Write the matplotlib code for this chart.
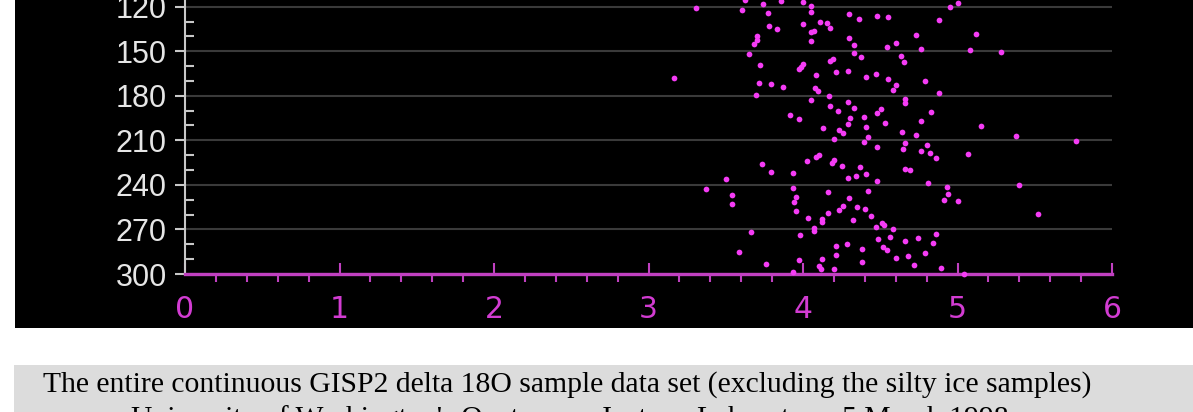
import matplotlib
matplotlib.use("Agg")
from matplotlib import pyplot as plt
from matplotlib.patches import Rectangle
from matplotlib.ticker import MultipleLocator
import numpy as np

# delta 18O value vs. sample depth
d18o = [3.306, 3.603, 3.743, 3.772, 3.782, 3.834, 3.702, 3.704, 3.683, 3.652,
        3.722, 3.163, 3.713, 3.795, 3.694, 3.733, 3.795, 3.504, 3.374, 3.542,
        3.542, 3.663, 3.584, 3.762, 3.625,
        3.856, 4.002, 4.052, 4.054, 4.300, 4.361, 4.477, 4.002, 4.112, 4.153,
        4.173, 4.073, 4.054, 4.052, 4.300, 4.332, 4.332, 4.373, 4.175, 4.192,
        4.000, 3.987, 3.976, 4.082, 4.214, 4.291, 4.410, 4.472, 3.873, 4.080,
        4.095, 4.170, 4.052, 4.291, 4.173, 4.330, 4.225, 4.481, 3.914, 3.976,
        4.302, 4.393, 4.291, 4.131, 4.233, 4.261, 4.410, 4.201, 4.393, 4.421,
        4.477, 4.024, 4.082, 4.102, 4.186, 4.201, 4.252, 4.371, 3.933, 4.293,
        4.343, 4.410, 4.481, 3.933, 3.953, 3.942, 3.953, 4.162, 4.300, 4.423,
        4.261, 4.233, 4.351, 4.403, 4.162, 4.032, 4.121, 4.121, 4.322, 4.440,
        4.071, 4.073, 4.472, 3.983, 4.214, 4.283, 4.382, 4.487, 4.214, 4.121,
        3.976, 4.382, 4.104, 4.117, 4.203, 3.937,
        4.951, 5.001, 4.552, 4.880, 4.731, 5.120, 4.602, 4.542, 4.762, 5.081,
        4.632, 4.652, 4.552, 4.602, 4.581, 4.792, 4.880, 4.660, 4.660, 4.503,
        4.531, 4.830, 4.762, 5.150, 4.641, 4.731, 4.660, 4.649, 4.762, 4.801,
        4.822, 4.863, 5.070, 4.660, 4.693, 4.811, 4.930, 4.940, 4.911, 5.001,
        4.509, 4.522, 4.581, 4.563, 4.660, 4.742, 4.861, 4.839, 4.520, 4.542,
        4.602, 4.682, 4.792, 4.720, 4.891, 5.044,
        5.280, 5.381, 5.769, 5.400, 5.521]
depth = [121.1, 122.2, 118.2, 124.5, 133.0, 135.2, 139.7, 142.4, 145.1, 152.1,
         159.3, 168.2, 171.2, 172.1, 179.3, 226.1, 231.1, 236.0, 243.0, 247.0,
         253.1, 271.9, 285.0, 293.1, 115.8,
         116.0, 116.6, 119.3, 123.4, 125.1, 128.3, 126.3, 131.9, 130.1, 131.2,
         134.2, 136.2, 137.3, 143.3, 141.1, 146.0, 151.0, 154.1, 156.4, 155.0,
         158.6, 160.8, 162.2, 166.0, 164.0, 163.1, 167.1, 165.1, 174.3, 174.8,
         177.0, 180.1, 182.8, 184.0, 186.9, 188.0, 190.0, 191.8, 193.1, 195.8,
         195.0, 194.1, 199.2, 201.9, 203.0, 205.3, 201.0, 209.3, 210.9, 208.0,
         214.3, 224.1, 221.0, 219.9, 225.1, 223.2, 227.1, 228.0, 232.0, 235.2,
         233.8, 232.9, 237.2, 241.9, 248.2, 251.7, 257.8, 245.0, 249.0, 244.1,
         254.0, 256.9, 255.1, 256.0, 258.7, 262.1, 263.2, 265.2, 263.9, 261.0,
         269.2, 271.1, 268.2, 274.0, 281.2, 280.0, 283.0, 276.6, 287.2, 289.7,
         290.8, 291.9, 294.6, 296.4, 296.8, 298.7,
         120.2, 117.3, 127.1, 129.2, 139.1, 138.2, 144.3, 147.2, 148.3, 149.2,
         153.0, 157.0, 168.9, 172.9, 176.1, 170.0, 178.1, 182.2, 184.9, 188.9,
         198.1, 191.1, 197.0, 200.1, 204.2, 206.2, 212.0, 216.0, 217.2, 213.1,
         218.3, 222.1, 219.0, 229.1, 230.2, 238.5, 241.2, 246.1, 250.2, 251.1,
         265.5, 267.0, 269.9, 275.1, 277.8, 276.0, 273.1, 278.9, 281.6, 283.8,
         289.0, 288.1, 286.1, 293.9, 296.0, 300.0,
         150.3, 207.1, 210.2, 240.1, 259.8]

caption1 = "The entire continuous GISP2 delta 18O sample data set (excluding the silty ice samples)"
caption2 = "University of Washington's Quaternary Isotope Laboratory, 5 March 1998"

W, H = 1193, 412
fig = plt.figure(figsize=(W / 100, H / 100), dpi=100, facecolor="white")

# black chart panel and grey caption box
fig.patches.append(Rectangle((15 / W, 84 / H), 1, 1, transform=fig.transFigure,
                             facecolor="black", edgecolor="none", zorder=-10))
fig.patches.append(Rectangle((14 / W, 0), 1, 47 / H, transform=fig.transFigure,
                             facecolor="#dcdcdc", edgecolor="none", zorder=-10))

ax = fig.add_axes([185 / W, 138 / H, 927 / W, 274 / H])
ax.set_facecolor("black")
ax.scatter(d18o, depth, s=17, color="#f53cf5", linewidths=0, zorder=5, clip_on=False)

ax.set_xlim(0, 6)
ax.set_ylim(300, 115.5)

ax.set_xticks(range(0, 7))
ax.xaxis.set_minor_locator(MultipleLocator(0.2))
ax.set_yticks(range(120, 301, 30))
ax.yaxis.set_minor_locator(MultipleLocator(10))

magenta = "#c040c0"
ax.spines["top"].set_visible(False)
ax.spines["right"].set_visible(False)
ax.spines["left"].set_color("#c8c8c8")
ax.spines["left"].set_linewidth(1.5)
ax.spines["bottom"].set_color(magenta)
ax.spines["bottom"].set_linewidth(2.4)
ax.spines["bottom"].set_zorder(4)

ax.tick_params(axis="x", which="major", direction="in", length=8, width=1.5,
               color=magenta, labelcolor="#d23cd2", labelsize=21.5, pad=15)
ax.tick_params(axis="x", which="minor", direction="out", length=5.8, width=1.5,
               color=magenta)
ax.tick_params(axis="y", which="major", direction="out", length=7.2, width=1.5,
               color="#c8c8c8", labelcolor="#e6e6e6", labelsize=22, pad=6)
ax.tick_params(axis="y", which="minor", direction="in", length=6.5, width=1.5,
               color="#c8c8c8")
for lab in ax.get_yticklabels():
    lab.set_family(["Liberation Sans", "DejaVu Sans"])

ax.yaxis.grid(True, which="major", color="#3a3a3a", linewidth=1.5)
ax.set_axisbelow(True)

fig.text(567 / W, 20 / H, caption1, ha="center", va="baseline", fontsize=21.3,
         family=["Liberation Serif", "DejaVu Serif"], color="black")
fig.text(570 / W, -14 / H, caption2, ha="center", va="baseline", fontsize=21.3,
         family=["Liberation Serif", "DejaVu Serif"], color="black")

fig.savefig("out.png", dpi=100)
